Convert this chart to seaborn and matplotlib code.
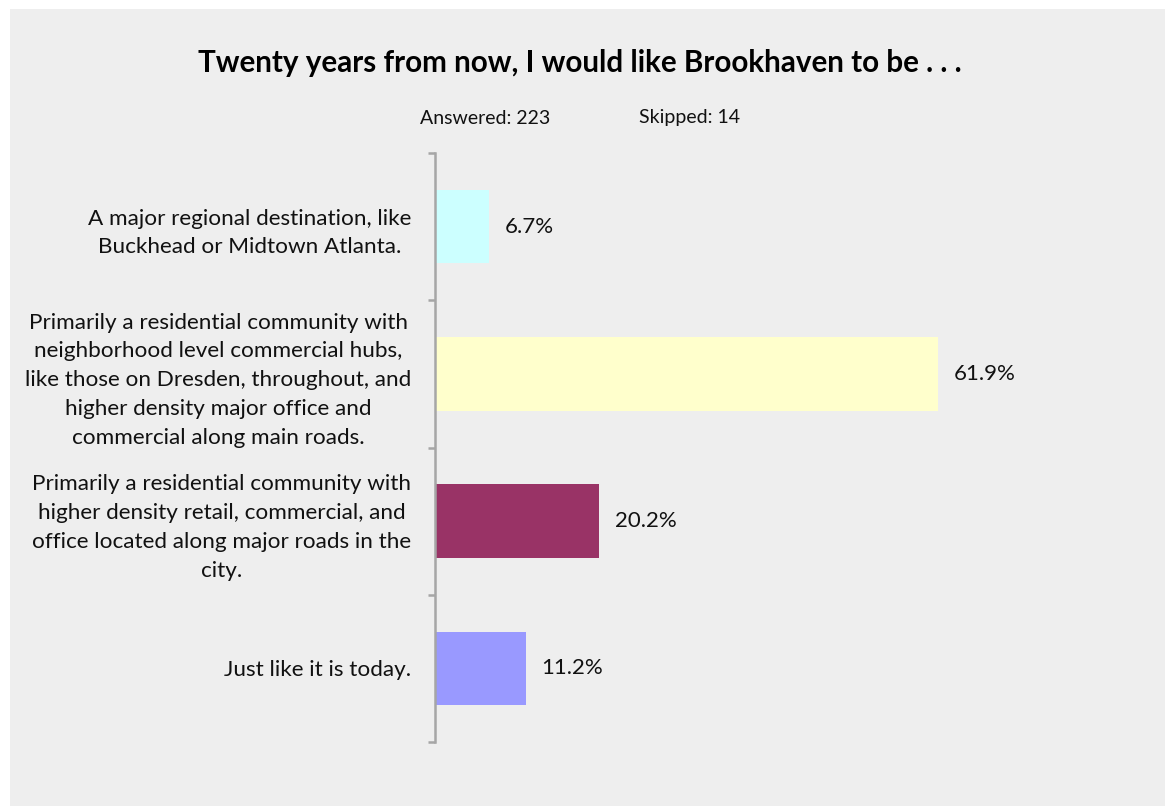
import matplotlib
matplotlib.use("Agg")
import matplotlib.pyplot as plt
import seaborn as sns
import pandas as pd
from matplotlib.patches import Rectangle

# ---- data -------------------------------------------------------------
answers = [
    "A major regional destination, like\nBuckhead or Midtown Atlanta.",
    "Primarily a residential community with\nneighborhood level commercial hubs,\nlike those on Dresden, throughout, and\nhigher density major office and\ncommercial along main roads.",
    "Primarily a residential community with\nhigher density retail, commercial, and\noffice located along major roads in the\ncity.",
    "Just like it is today.",
]
percents = [6.7, 61.9, 20.2, 11.2]
bar_colors = ["#ccffff", "#ffffcc", "#993366", "#9999ff"]
title = "Twenty years from now, I would like Brookhaven to be . . ."
answered = "Answered: 223"
skipped = "Skipped: 14"

df = pd.DataFrame({"Answer": answers, "Percent": percents})

# ---- style ------------------------------------------------------------
sns.set_style("white")
plt.rcParams["font.family"] = ["Lato", "DejaVu Sans"]

W, H = 1165, 806
fig = plt.figure(figsize=(W / 100, H / 100), dpi=100)
fig.patch.set_facecolor("white")
# grey panel behind the chart
fig.patches.append(Rectangle((10 / W, 0), 1 - 10 / W, 1 - 9 / H,
                             transform=fig.transFigure, facecolor="#eeeeee",
                             edgecolor="none", zorder=-10))

ax = fig.add_axes([435 / W, (H - 742) / H, 650 / W, 589 / H])
ax.set_facecolor("none")

sns.barplot(data=df, y="Answer", x="Percent", hue="Answer", palette=bar_colors,
            orient="h", width=0.5, legend=False, saturation=1, linewidth=0, ax=ax)

ax.set_xlim(0, 80)
ax.set_ylim(3.5, -0.5)
ax.set_xlabel("")
ax.set_ylabel("")
ax.set_xticks([])

for s in ["top", "right", "bottom"]:
    ax.spines[s].set_visible(False)
ax.spines["left"].set_color("#a6a6a6")
ax.spines["left"].set_linewidth(1.8)

ax.set_yticks([-0.5, 0.5, 1.5, 2.5, 3.5], minor=True)
ax.tick_params(axis="y", which="minor", length=5, width=1.8, color="#a6a6a6", left=True)
ax.tick_params(axis="y", which="major", length=0, pad=17, labelsize=16.2, labelcolor="#111111")
for lab in ax.get_yticklabels():
    lab.set_multialignment("center")
    lab.set_linespacing(1.55)

for i, v in enumerate(percents):
    ax.text(v + 1.9, i, f"{v:.1f}%", va="center", ha="left", fontsize=16, color="#111111")

fig.text(580 / W, 1 - 63 / H, title, ha="center", va="center",
         fontsize=21.3, fontweight="bold", color="black")
fig.text(420 / W, 1 - 118 / H, answered, ha="left", va="center", fontsize=14, color="#111111")
fig.text(639 / W, 1 - 118 / H, skipped, ha="left", va="center", fontsize=14, color="#111111")

fig.savefig("out.png", dpi=100)
